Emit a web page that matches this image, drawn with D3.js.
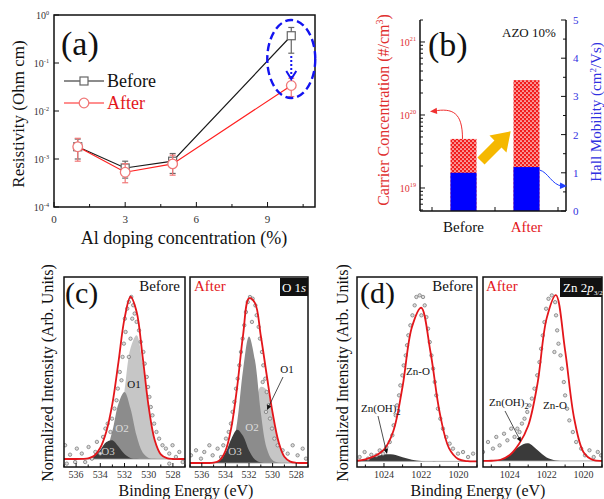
<!DOCTYPE html>
<html lang='en'>
<head>
<meta charset='utf-8'>
<title>AZO 10%: resistivity, Hall data and XPS</title>
<script src="https://d3js.org/d3.v7.min.js"></script>
<style>
body { margin: 0; background: #fff; }
svg { display: block; font-family: 'Liberation Serif', 'Times New Roman', serif; }
</style>
</head>
<body>
<script>
// ---------- (a) resistivity vs Al doping ----------
var dopingLevels = [1, 3, 5, 10];
var rhoBefore = [1.8e-3, 6.5e-4, 9.0e-4, 0.37];
var rhoBeforeLow = [1.0e-3, 4.0e-4, 5.0e-4, 0.16];
var rhoBeforeHigh = [2.6e-3, 9.0e-4, 1.3e-3, 0.55];
var rhoAfter = [1.8e-3, 5.3e-4, 7.9e-4, 0.034];
var rhoAfterLow = [9.0e-4, 3.2e-4, 4.6e-4, 0.020];
var rhoAfterHigh = [2.7e-3, 8.0e-4, 1.2e-3, 0.048];
var dopingTicks = [0, 3, 6, 9];
var rhoTicks = [1e-4, 1e-3, 1e-2, 1e-1, 1];

// ---------- (b) Hall measurement ----------
var hallCats = ['Before', 'After'];
var carrierConc = [4.7e19, 3.0e20];
var hallMobility = [1.0, 1.15];
var carrierTicks = [1e19, 1e20, 1e21];
var mobilityTicks = [0, 1, 2, 3, 4, 5];

// ---------- (c) O 1s ----------
var o1sEnergy = [537, 536.5, 536, 535.5, 535, 534.5, 534, 533.5, 533, 532.5, 532, 531.5, 531, 530.5, 530, 529.5, 529, 528.5, 528, 527.5, 527];
var o1Before = [0, 0, 0, 0, 0, 0, 0.002, 0.011, 0.053, 0.182, 0.427, 0.693, 0.774, 0.597, 0.317, 0.116, 0.029, 0.005, 0, 0, 0];
var o2Before = [0, 0, 0, 0, 0, 0.001, 0.011, 0.055, 0.176, 0.346, 0.419, 0.314, 0.145, 0.041, 0.007, 0.001, 0, 0, 0, 0, 0];
var o3Before = [0, 0, 0, 0, 0.004, 0.019, 0.057, 0.106, 0.117, 0.078, 0.031, 0.007, 0.001, 0, 0, 0, 0, 0, 0, 0, 0];
var o1sFitBefore = [0, 0, 0, 0.001, 0.004, 0.020, 0.070, 0.172, 0.346, 0.606, 0.877, 1.014, 0.920, 0.638, 0.324, 0.117, 0.029, 0.005, 0, 0, 0];
var o1After = [0, 0, 0, 0, 0, 0, 0, 0.002, 0.011, 0.049, 0.153, 0.320, 0.456, 0.438, 0.285, 0.126, 0.037, 0.008, 0.001, 0, 0];
var o2After = [0, 0, 0, 0, 0, 0.001, 0.010, 0.065, 0.247, 0.558, 0.758, 0.618, 0.303, 0.089, 0.016, 0.002, 0, 0, 0, 0, 0];
var o3After = [0, 0, 0, 0, 0.002, 0.015, 0.061, 0.144, 0.199, 0.161, 0.075, 0.021, 0.003, 0, 0, 0, 0, 0, 0, 0, 0];
var o1sFitAfter = [0, 0, 0, 0, 0.002, 0.016, 0.071, 0.211, 0.457, 0.768, 0.986, 0.959, 0.762, 0.527, 0.301, 0.128, 0.037, 0.008, 0.001, 0, 0];
var o1sPointsBefore = [[536.91,0.086],[536.5,0.027],[536.77,-0.029],[536.08,-0.019],[535.94,0.065],[535.53,0.034],[535.25,-0.019],[534.97,0.075],[534.69,0.002],[534.41,0.044],[534.28,0.107],[534.0,0.034],[533.77,0.138],[533.58,0.19],[533.39,0.221],[533.16,0.169],[533.03,0.252],[532.83,0.315],[532.66,0.367],[532.55,0.44],[532.39,0.544],[532.25,0.492],[532.16,0.638],[532.05,0.721],[531.91,0.794],[531.97,0.877],[531.77,0.94],[531.64,0.982],[531.44,1.013],[531.28,0.961],[531.16,0.909],[531.36,0.877],[531.0,0.857],[530.8,0.804],[530.66,0.732],[530.44,0.669],[530.33,0.596],[530.16,0.513],[530.05,0.45],[529.94,0.388],[529.83,0.325],[529.69,0.273],[529.55,0.221],[529.36,0.169],[529.14,0.127],[528.86,0.086],[528.58,0.065],[528.3,0.034],[528.03,0.086],[527.75,0.013],[527.47,0.044],[527.19,-0.019],[528.3,-0.029],[531.64,0.638],[531.5,0.752]];
var o1sPointsAfter = [[536.92,0.046],[536.49,0.076],[536.07,0.026],[535.79,0.066],[535.36,0.106],[535.08,0.046],[534.66,0.086],[534.37,0.036],[534.18,0.106],[533.95,0.146],[533.72,0.186],[533.53,0.236],[533.39,0.306],[533.24,0.366],[533.1,0.445],[532.96,0.505],[532.82,0.585],[532.68,0.665],[532.54,0.745],[532.4,0.825],[532.26,0.904],[532.11,0.964],[531.92,0.994],[531.69,0.984],[531.46,0.944],[531.35,0.885],[531.75,0.845],[531.18,0.815],[531.07,0.745],[530.9,0.665],[530.79,0.585],[530.62,0.505],[530.5,0.425],[530.33,0.346],[530.22,0.266],[530.05,0.206],[529.85,0.146],[529.57,0.106],[529.15,0.076],[528.72,0.056],[528.3,0.106],[527.88,0.046],[527.45,0.086],[527.17,0.026],[530.56,0.306],[530.84,0.485]];
var o1sTicks = [536, 534, 532, 530, 528];

// ---------- (d) Zn 2p3/2 ----------
var zn2pEnergy = [1025.5, 1025, 1024.5, 1024, 1023.5, 1023, 1022.5, 1022, 1021.5, 1021, 1020.5, 1020, 1019.5, 1019];
var znOHBefore = [0.003, 0.013, 0.029, 0.043, 0.042, 0.025, 0.010, 0.003, 0, 0, 0, 0, 0, 0];
var zn2pFitBefore = [0.003, 0.013, 0.033, 0.073, 0.187, 0.465, 0.833, 0.954, 0.679, 0.299, 0.081, 0.014, 0.001, 0];
var znOHAfter = [0, 0.001, 0.007, 0.034, 0.084, 0.104, 0.064, 0.020, 0.003, 0, 0, 0, 0, 0];
var zn2pFitAfter = [0, 0.001, 0.007, 0.035, 0.100, 0.208, 0.455, 0.844, 0.982, 0.655, 0.247, 0.052, 0.006, 0];
var zn2pPointsBefore = [[1025.31,0.027],[1025.04,0.058],[1024.86,0.017],[1024.68,0.041],[1024.41,0.037],[1024.23,0.068],[1024.05,0.048],[1023.87,0.089],[1023.69,0.12],[1023.55,0.162],[1023.48,0.224],[1023.37,0.286],[1023.3,0.348],[1023.19,0.41],[1023.12,0.472],[1023.01,0.534],[1022.94,0.596],[1022.83,0.658],[1022.76,0.721],[1022.69,0.783],[1022.58,0.845],[1022.47,0.907],[1022.35,0.969],[1022.26,1.021],[1022.08,1.031],[1021.9,1.021],[1021.81,0.969],[1021.72,0.896],[1021.63,0.824],[1021.54,0.741],[1021.45,0.658],[1021.36,0.576],[1021.27,0.493],[1021.19,0.41],[1021.1,0.327],[1020.97,0.265],[1020.83,0.203],[1020.65,0.151],[1020.47,0.11],[1020.29,0.079],[1020.02,0.048],[1019.75,0.058],[1019.48,0.027],[1019.21,0.048],[1021.99,0.907]];
var zn2pPointsAfter = [[1025.45,0.053],[1025.18,0.112],[1024.91,0.073],[1024.73,0.142],[1024.55,0.092],[1024.31,0.161],[1024.13,0.122],[1023.92,0.191],[1023.74,0.142],[1023.59,0.191],[1023.47,0.171],[1023.34,0.221],[1023.2,0.25],[1023.05,0.29],[1022.93,0.329],[1022.8,0.369],[1022.66,0.428],[1022.51,0.507],[1022.39,0.585],[1022.3,0.664],[1022.21,0.743],[1022.12,0.822],[1022.03,0.901],[1021.9,0.96],[1021.72,0.98],[1021.54,0.94],[1021.49,0.862],[1021.43,0.773],[1021.36,0.694],[1021.58,0.645],[1021.25,0.625],[1021.18,0.546],[1021.07,0.467],[1021.0,0.388],[1020.89,0.309],[1020.77,0.24],[1020.58,0.171],[1020.4,0.112],[1020.13,0.073],[1019.92,0.033],[1019.68,0.063],[1019.45,0.023],[1019.23,0.053],[1019.05,0.033]];
var zn2pTicks = [1024, 1022, 1020];

var RED = '#e3161b';
var BLUE = '#1414f0';

var svg = d3.select('body').append('svg').attr('width', 604).attr('height', 499);
svg.append('rect').attr('width', 604).attr('height', 499).attr('fill', '#fff');
var defs = svg.append('defs');

function addPow(text, base, exp, fs) {
    text.append('tspan').text(base);
    text.append('tspan').attr('dy', -fs * 0.45).attr('font-size', fs * 0.62).text(exp);
}
function arrowHead(g, x, y, angle, size, color) {
    // small filled triangle pointing along angle (deg)
    g.append('path')
        .attr('d', 'M0,0 L' + (-size) + ',' + (-size * 0.45) + ' L' + (-size) + ',' + (size * 0.45) + 'Z')
        .attr('transform', 'translate(' + x + ',' + y + ') rotate(' + angle + ')')
        .attr('fill', color);
}

// =============== panel (a) ===============
var pa = {l: 54, r: 315, t: 15, b: 207};
var xA = d3.scaleLinear().domain([0, 11]).range([pa.l, pa.r]);
var yA = d3.scaleLog().domain([1e-4, 1]).range([pa.b, pa.t]);
var gA = svg.append('g');

gA.selectAll('.xtick').data(d3.range(0, 11, 1.5)).join('line')
    .attr('x1', d => xA(d)).attr('x2', d => xA(d))
    .attr('y1', pa.b).attr('y2', d => pa.b - (d % 3 === 0 ? 5 : 3))
    .attr('stroke', '#111');
gA.selectAll('.ytick').data(rhoTicks).join('line')
    .attr('x1', pa.l).attr('x2', pa.l + 5)
    .attr('y1', d => yA(d)).attr('y2', d => yA(d))
    .attr('stroke', '#111');
gA.selectAll('.xlab').data(dopingTicks).join('text')
    .attr('x', d => xA(d)).attr('y', 223)
    .attr('text-anchor', 'middle').attr('font-size', 11).attr('fill', '#333')
    .text(d => d);
gA.selectAll('.ylab').data(rhoTicks).join('text')
    .attr('x', 49).attr('y', d => yA(d) + 4)
    .attr('text-anchor', 'end').attr('font-size', 10).attr('fill', '#333')
    .each(function(d) { addPow(d3.select(this), '10', Math.round(Math.log10(d)), 10); });
gA.append('rect').attr('x', pa.l).attr('y', pa.t).attr('width', pa.r - pa.l).attr('height', pa.b - pa.t)
    .attr('fill', 'none').attr('stroke', '#111').attr('stroke-width', 1.5);

var seriesA = [
    {vals: rhoBefore, lo: rhoBeforeLow, hi: rhoBeforeHigh, line: '#1a1a1a', mark: '#666', err: '#666', shape: 'square'},
    {vals: rhoAfter, lo: rhoAfterLow, hi: rhoAfterHigh, line: '#ff1f1f', mark: '#f07878', err: '#f07878', shape: 'circle'}
];
var lineA = d3.line().x((d, i) => xA(dopingLevels[i])).y(d => yA(d));
seriesA.forEach(function(s) {
    var g = gA.append('g');
    g.append('path').attr('d', lineA(s.vals)).attr('fill', 'none').attr('stroke', s.line).attr('stroke-width', 1.2);
    dopingLevels.forEach(function(x, i) {
        var cx = xA(x);
        g.append('line').attr('x1', cx).attr('x2', cx).attr('y1', yA(s.lo[i])).attr('y2', yA(s.hi[i])).attr('stroke', s.err).attr('stroke-width', 1.2);
        [s.lo[i], s.hi[i]].forEach(function(v) {
            g.append('line').attr('x1', cx - 3).attr('x2', cx + 3).attr('y1', yA(v)).attr('y2', yA(v)).attr('stroke', s.err).attr('stroke-width', 1.2);
        });
        if (s.shape === 'square') {
            g.append('rect').attr('x', cx - 4).attr('y', yA(s.vals[i]) - 4).attr('width', 8).attr('height', 8)
                .attr('fill', '#fff').attr('stroke', s.mark).attr('stroke-width', 1.2);
        } else {
            g.append('circle').attr('cx', cx).attr('cy', yA(s.vals[i])).attr('r', 4.8)
                .attr('fill', '#fff').attr('stroke', s.mark).attr('stroke-width', 1.3);
        }
    });
});

// legend
gA.append('line').attr('x1', 64).attr('x2', 104).attr('y1', 81).attr('y2', 81).attr('stroke', '#1a1a1a').attr('stroke-width', 1.2);
gA.append('rect').attr('x', 80).attr('y', 77).attr('width', 8).attr('height', 8).attr('fill', '#fff').attr('stroke', '#666').attr('stroke-width', 1.2);
gA.append('text').attr('x', 107).attr('y', 87).attr('font-size', 18).attr('fill', '#111').text('Before');
gA.append('line').attr('x1', 64).attr('x2', 104).attr('y1', 103).attr('y2', 103).attr('stroke', '#ff1f1f').attr('stroke-width', 1.2);
gA.append('circle').attr('cx', 84).attr('cy', 103).attr('r', 4.8).attr('fill', '#fff').attr('stroke', '#f07878').attr('stroke-width', 1.3);
gA.append('text').attr('x', 107).attr('y', 109).attr('font-size', 18).attr('fill', RED).text('After');

gA.append('text').attr('x', 61).attr('y', 55).attr('font-size', 34).attr('fill', '#111').text('(a)');

// highlight ellipse and dotted arrow at 10 %
var ex = xA(dopingLevels[3]);
gA.append('ellipse').attr('cx', ex).attr('cy', 59).attr('rx', 24).attr('ry', 39)
    .attr('fill', 'none').attr('stroke', BLUE).attr('stroke-width', 2.4).attr('stroke-dasharray', '8,4');
gA.append('line').attr('x1', ex).attr('x2', ex).attr('y1', 56).attr('y2', 78)
    .attr('stroke', BLUE).attr('stroke-width', 2).attr('stroke-dasharray', '2,2');
gA.append('path').attr('d', 'M' + (ex - 5) + ',71 L' + ex + ',79 L' + (ex + 5) + ',71')
    .attr('fill', 'none').attr('stroke', BLUE).attr('stroke-width', 2);

gA.append('text').attr('transform', 'translate(24,114) rotate(-90)').attr('text-anchor', 'middle')
    .attr('font-size', 17).attr('fill', '#111').text('Resistivity (Ohm cm)');
gA.append('text').attr('x', 184).attr('y', 244).attr('text-anchor', 'middle')
    .attr('font-size', 18).attr('fill', '#111').text('Al doping concentration (%)');

// =============== panel (b) ===============
var pb = {l: 420, r: 566, t: 20, b: 211};
var xB = d3.scaleBand().domain(hallCats).range([432, 558]);
var yCarrier = d3.scaleLog().domain([4.84e18, 2e21]).range([pb.b, pb.t]);
var yMob = d3.scaleLinear().domain([0, 5]).range([pb.b, pb.t]);
var gB = svg.append('g');

var pat = defs.append('pattern').attr('id', 'checker').attr('width', 4).attr('height', 4).attr('patternUnits', 'userSpaceOnUse');
pat.append('rect').attr('width', 4).attr('height', 4).attr('fill', '#f21c1c');
pat.append('circle').attr('cx', 1).attr('cy', 1).attr('r', 0.85).attr('fill', '#fff');
pat.append('circle').attr('cx', 3).attr('cy', 3).attr('r', 0.85).attr('fill', '#fff');

var barW = 26;
gB.selectAll('.carrier').data(hallCats).join('rect')
    .attr('x', d => xB(d) + xB.bandwidth() / 2 - barW / 2)
    .attr('y', (d, i) => yCarrier(carrierConc[i]))
    .attr('width', barW)
    .attr('height', (d, i) => pb.b - yCarrier(carrierConc[i]))
    .attr('fill', 'url(#checker)');
gB.selectAll('.mobility').data(hallCats).join('rect')
    .attr('x', d => xB(d) + xB.bandwidth() / 2 - barW / 2)
    .attr('y', (d, i) => yMob(hallMobility[i]))
    .attr('width', barW)
    .attr('height', (d, i) => pb.b - yMob(hallMobility[i]))
    .attr('fill', '#0000ff');

// axes lines
gB.append('line').attr('x1', pb.l).attr('x2', pb.l).attr('y1', pb.t).attr('y2', pb.b).attr('stroke', '#111').attr('stroke-width', 1.5);
gB.append('line').attr('x1', pb.r).attr('x2', pb.r).attr('y1', pb.t).attr('y2', pb.b).attr('stroke', '#111').attr('stroke-width', 1.5);
gB.append('line').attr('x1', pb.l).attr('x2', pb.r).attr('y1', pb.b).attr('y2', pb.b).attr('stroke', '#111').attr('stroke-width', 1.5);
var carrierMinor = yCarrier.ticks().filter(d => d >= 5e18 && d <= 2e21);
gB.selectAll('.cmin').data(carrierMinor).join('line')
    .attr('x1', pb.l).attr('x2', d => pb.l + (carrierTicks.indexOf(d) >= 0 ? 5 : 3))
    .attr('y1', d => yCarrier(d)).attr('y2', d => yCarrier(d)).attr('stroke', '#111');
gB.selectAll('.mtick').data(d3.range(0, 5.01, 0.5)).join('line')
    .attr('x1', pb.r).attr('x2', d => pb.r - (d % 1 === 0 ? 5 : 3))
    .attr('y1', d => yMob(d)).attr('y2', d => yMob(d)).attr('stroke', '#111');
var catEdges = [xB('Before'), xB('After'), xB('After') + xB.bandwidth()];
gB.selectAll('.btick').data(catEdges).join('line')
    .attr('x1', d => d).attr('x2', d => d).attr('y1', pb.b).attr('y2', pb.b - 4).attr('stroke', '#111');
gB.selectAll('.clab').data(carrierTicks).join('text')
    .attr('x', 416).attr('y', d => yCarrier(d) + 4)
    .attr('text-anchor', 'end').attr('font-size', 10).attr('fill', '#e03030')
    .each(function(d) { addPow(d3.select(this), '10', Math.round(Math.log10(d)), 10); });
gB.selectAll('.mlab').data(mobilityTicks).join('text')
    .attr('x', 573).attr('y', d => yMob(d) + 4)
    .attr('font-size', 11).attr('fill', '#3030e0').text(d => d);
gB.selectAll('.catlab').data(hallCats).join('text')
    .attr('x', d => xB(d) + xB.bandwidth() / 2).attr('y', 232)
    .attr('text-anchor', 'middle').attr('font-size', 15)
    .attr('fill', (d, i) => i === 0 ? '#111' : RED).text(d => d);

gB.append('text').attr('x', 428).attr('y', 56).attr('font-size', 34).attr('fill', '#111').text('(b)');
gB.append('text').attr('x', 502).attr('y', 37).attr('font-size', 13).attr('fill', '#111').text('AZO 10%');

// yellow arrow between bars
gB.append('path')
    .attr('d', 'M0,-5 L24,-5 L24,-12 L42,0 L24,12 L24,5 L0,5 Z')
    .attr('transform', 'translate(481,161) rotate(-45)')
    .attr('fill', '#f5b800');

// curved pointer arrows
var bx0 = xB('Before') + xB.bandwidth() / 2 - barW / 2;
var bx1 = xB('After') + xB.bandwidth() / 2 + barW / 2;
gB.append('path').attr('d', 'M' + (bx0 + 12) + ',' + yCarrier(carrierConc[0]) + ' C' + (bx0 + 12) + ',112 ' + (bx0 + 2) + ',108 434,111')
    .attr('fill', 'none').attr('stroke', '#f03030').attr('stroke-width', 1);
arrowHead(gB, 430, 111.5, 175, 7, '#f03030');
gB.append('path').attr('d', 'M' + bx1 + ',170 C548,172 552,185 562,186')
    .attr('fill', 'none').attr('stroke', '#2040ff').attr('stroke-width', 1);
arrowHead(gB, 567, 186, 2, 7, '#2040ff');

var cl = gB.append('text').attr('transform', 'translate(389,110) rotate(-90)').attr('text-anchor', 'middle')
    .attr('font-size', 16).attr('fill', '#e03030');
cl.append('tspan').text('Carrier Concentration (#/cm');
cl.append('tspan').attr('dy', -6).attr('font-size', 10).text('3');
cl.append('tspan').attr('dy', 6).text(')');
var hl = gB.append('text').attr('transform', 'translate(601,112) rotate(-90)').attr('text-anchor', 'middle')
    .attr('font-size', 15).attr('fill', '#3030e0');
hl.append('tspan').text('Hall Mobility (cm');
hl.append('tspan').attr('dy', -5).attr('font-size', 9).text('2');
hl.append('tspan').attr('dy', 5).text('/Vs)');

// =============== panels (c) and (d) ===============
var specTop = 277, specBot = 467;
var spectra = [
    {id: 'cB', x0: 64, x1: 185, dom: [537, 527], yDom: [-0.05, 1.1375], en: o1sEnergy,
        comps: [[o1Before, '#c6c6c6'], [o2Before, '#8c8c8c'], [o3Before, '#3d3d3d']],
        fit: o1sFitBefore, pts: o1sPointsBefore, ticks: o1sTicks},
    {id: 'cA', x0: 190, x1: 308, dom: [537, 527], yDom: [-0.024, 1.114], en: o1sEnergy,
        comps: [[o1After, '#c6c6c6'], [o2After, '#8c8c8c'], [o3After, '#3d3d3d']],
        fit: o1sFitAfter, pts: o1sPointsAfter, ticks: o1sTicks},
    {id: 'dB', x0: 357, x1: 477, dom: [1025.45, 1019], yDom: [-0.035, 1.145], en: zn2pEnergy,
        comps: [[znOHBefore, '#3a3a3a']],
        fit: zn2pFitBefore, pts: zn2pPointsBefore, ticks: zn2pTicks},
    {id: 'dA', x0: 483, x1: 602, dom: [1025.45, 1019], yDom: [-0.036, 1.089], en: zn2pEnergy,
        comps: [[znOHAfter, '#3a3a3a']],
        fit: zn2pFitAfter, pts: zn2pPointsAfter, ticks: zn2pTicks}
];

spectra.forEach(function(p) {
    var x = d3.scaleLinear().domain(p.dom).range([p.x0, p.x1]);
    var y = d3.scaleLinear().domain(p.yDom).range([specBot, specTop]);
    var g = svg.append('g');
    defs.append('clipPath').attr('id', 'clip-' + p.id)
        .append('rect').attr('x', p.x0).attr('y', specTop).attr('width', p.x1 - p.x0).attr('height', specBot - specTop);
    var inner = g.append('g').attr('clip-path', 'url(#clip-' + p.id + ')');
    var area = d3.area().x((d, i) => x(p.en[i])).y0(y(0)).y1(d => y(d)).curve(d3.curveCatmullRom);
    p.comps.forEach(function(c) {
        inner.append('path').attr('d', area(c[0])).attr('fill', c[1]);
    });
    inner.append('line').attr('x1', p.x0).attr('x2', p.x1).attr('y1', y(0)).attr('y2', y(0)).attr('stroke', '#999').attr('stroke-width', 0.8);
    inner.selectAll('.pt').data(p.pts).join('circle')
        .attr('cx', d => x(d[0])).attr('cy', d => y(d[1])).attr('r', 1.7)
        .attr('fill', '#dcdcdc').attr('stroke', '#707070').attr('stroke-width', 0.7);
    var fitLine = d3.line().x((d, i) => x(p.en[i])).y(d => y(d)).curve(d3.curveCatmullRom);
    inner.append('path').attr('d', fitLine(p.fit)).attr('fill', 'none').attr('stroke', RED).attr('stroke-width', 1.8);

    var lo = Math.ceil(Math.min(p.dom[0], p.dom[1])), hi = Math.floor(Math.max(p.dom[0], p.dom[1]));
    g.selectAll('.tk').data(d3.range(lo, hi + 1)).join('line')
        .attr('x1', d => x(d)).attr('x2', d => x(d))
        .attr('y1', specBot).attr('y2', d => specBot - (p.ticks.indexOf(d) >= 0 ? 4 : 2.5))
        .attr('stroke', '#111');
    g.selectAll('.tl').data(p.ticks).join('text')
        .attr('x', d => x(d)).attr('y', 478).attr('text-anchor', 'middle')
        .attr('font-size', 10).attr('fill', '#333').text(d => d);
    g.append('rect').attr('x', p.x0).attr('y', specTop).attr('width', p.x1 - p.x0).attr('height', specBot - specTop)
        .attr('fill', 'none').attr('stroke', '#111').attr('stroke-width', 1.5);
});

function label(x, y, txt, opts) {
    opts = opts || {};
    return svg.append('text').attr('x', x).attr('y', y)
        .attr('font-size', opts.size || 11).attr('fill', opts.fill || '#111')
        .attr('text-anchor', opts.anchor || 'start').text(txt);
}
// (c) labels
label(65, 303, '(c)', {size: 30});
label(180, 291, 'Before', {size: 15, anchor: 'end'});
label(194, 291, 'After', {size: 15, fill: RED});
label(134, 388, 'O1', {anchor: 'middle'});
label(122, 432, 'O2', {anchor: 'middle', fill: '#ddd'});
label(108, 455, 'O3', {anchor: 'middle', fill: '#ccc'});
label(287, 373, 'O1', {anchor: 'middle'});
svg.append('line').attr('x1', 283).attr('y1', 377).attr('x2', 269).attr('y2', 406).attr('stroke', '#222').attr('stroke-width', 0.8);
arrowHead(svg, 267, 410, 116, 5, '#111');
label(252, 431, 'O2', {anchor: 'middle', fill: '#ddd'});
label(235, 455, 'O3', {anchor: 'middle', fill: '#ccc'});
svg.append('rect').attr('x', 280).attr('y', 278).attr('width', 28).attr('height', 18).attr('fill', '#111');
var o1s = label(294, 292, 'O 1', {size: 13, fill: '#fff', anchor: 'middle'});
o1s.append('tspan').attr('font-style', 'italic').text('s');
svg.append('text').attr('transform', 'translate(53,373) rotate(-90)').attr('text-anchor', 'middle')
    .attr('font-size', 16).attr('fill', '#111').text('Normalized Intensity (Arb. Units)');
label(186, 496, 'Binding Energy (eV)', {size: 16, anchor: 'middle'});

// (d) labels
label(360, 303, '(d)', {size: 30});
label(473, 291, 'Before', {size: 15, anchor: 'end'});
label(486, 291, 'After', {size: 15, fill: RED});
label(406, 375, 'Zn-O');
var zb = label(361, 412, 'Zn(OH)');
zb.append('tspan').attr('dy', 3).attr('font-size', 8).text('2');
svg.append('line').attr('x1', 378).attr('y1', 416).attr('x2', 386).attr('y2', 450).attr('stroke', '#222').attr('stroke-width', 0.8);
arrowHead(svg, 387, 454, 77, 5, '#111');
label(543, 409, 'Zn-O');
var za = label(489, 406, 'Zn(OH)');
za.append('tspan').attr('dy', 3).attr('font-size', 8).text('2');
svg.append('line').attr('x1', 505).attr('y1', 411).attr('x2', 519).attr('y2', 438).attr('stroke', '#222').attr('stroke-width', 0.8);
arrowHead(svg, 521, 442, 62, 5, '#111');
svg.append('rect').attr('x', 560).attr('y', 278).attr('width', 42).attr('height', 19).attr('fill', '#111');
var znp = label(563, 292, 'Zn 2', {size: 13, fill: '#fff'});
znp.append('tspan').attr('font-style', 'italic').text('p');
znp.append('tspan').attr('dy', 3).attr('font-size', 7).text('3/2');
svg.append('text').attr('transform', 'translate(348,373) rotate(-90)').attr('text-anchor', 'middle')
    .attr('font-size', 16).attr('fill', '#111').text('Normalized Intensity (Arb. Units)');
label(478, 496, 'Binding Energy (eV)', {size: 16, anchor: 'middle'});
</script>
</body>
</html>
